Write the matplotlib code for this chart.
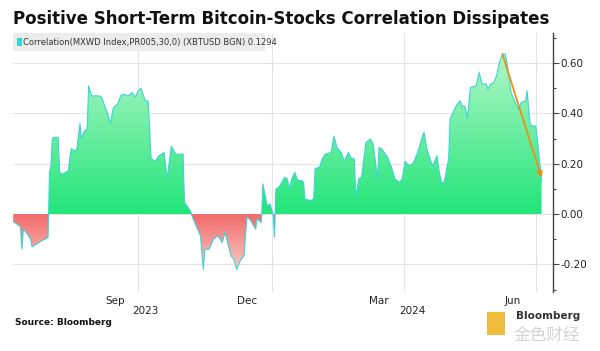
import numpy as np
import pandas as pd
import matplotlib
matplotlib.use('Agg')
import matplotlib.pyplot as plt
import matplotlib.dates as mdates
import matplotlib.transforms as mtransforms
from matplotlib.path import Path
from matplotlib.patches import Rectangle
from matplotlib.colors import LinearSegmentedColormap

# 30-day correlation, MSCI World vs Bitcoin
dates = [
    '2023-07-07', '2023-07-12', '2023-07-13', '2023-07-14', '2023-07-16', '2023-07-19',
    '2023-07-20', '2023-07-23', '2023-07-27', '2023-07-29', '2023-07-31', '2023-08-01',
    '2023-08-02', '2023-08-03', '2023-08-04', '2023-08-07', '2023-08-08', '2023-08-10',
    '2023-08-12', '2023-08-14', '2023-08-15', '2023-08-16', '2023-08-19', '2023-08-20',
    '2023-08-22', '2023-08-23', '2023-08-25', '2023-08-27', '2023-08-28', '2023-08-30',
    '2023-09-04', '2023-09-06', '2023-09-08', '2023-09-10', '2023-09-12', '2023-09-14',
    '2023-09-17', '2023-09-19', '2023-09-21', '2023-09-24', '2023-09-27', '2023-09-29',
    '2023-10-01', '2023-10-03', '2023-10-06', '2023-10-08', '2023-10-10', '2023-10-13',
    '2023-10-15', '2023-10-19', '2023-10-21', '2023-10-24', '2023-10-27', '2023-11-01',
    '2023-11-02', '2023-11-06', '2023-11-08', '2023-11-10', '2023-11-13', '2023-11-15',
    '2023-11-16', '2023-11-19', '2023-11-22', '2023-11-25', '2023-11-28', '2023-11-30',
    '2023-12-04', '2023-12-06', '2023-12-08', '2023-12-10', '2023-12-13', '2023-12-15',
    '2023-12-17', '2023-12-21', '2023-12-22', '2023-12-25', '2023-12-26', '2023-12-29',
    '2023-12-31', '2024-01-02', '2024-01-03', '2024-01-04', '2024-01-06', '2024-01-08',
    '2024-01-10', '2024-01-12', '2024-01-13', '2024-01-15', '2024-01-17', '2024-01-19',
    '2024-01-22', '2024-01-23', '2024-01-24', '2024-01-28', '2024-01-30', '2024-01-31',
    '2024-02-03', '2024-02-05', '2024-02-07', '2024-02-11', '2024-02-13', '2024-02-15',
    '2024-02-18', '2024-02-20', '2024-02-23', '2024-02-25', '2024-02-27', '2024-02-28',
    '2024-03-01', '2024-03-03', '2024-03-06', '2024-03-09', '2024-03-11', '2024-03-14',
    '2024-03-15', '2024-03-17', '2024-03-21', '2024-03-24', '2024-03-26', '2024-03-29',
    '2024-03-31', '2024-04-02', '2024-04-05', '2024-04-07', '2024-04-09', '2024-04-11',
    '2024-04-14', '2024-04-15', '2024-04-17', '2024-04-20', '2024-04-21', '2024-04-24',
    '2024-04-25', '2024-04-27', '2024-04-29', '2024-05-01', '2024-05-02', '2024-05-03',
    '2024-05-06', '2024-05-08', '2024-05-10', '2024-05-11', '2024-05-13', '2024-05-15',
    '2024-05-17', '2024-05-21', '2024-05-23', '2024-05-25', '2024-05-28', '2024-05-29',
    '2024-05-31', '2024-06-02', '2024-06-04', '2024-06-06', '2024-06-08', '2024-06-10',
    '2024-06-12', '2024-06-14', '2024-06-17', '2024-06-19', '2024-06-21', '2024-06-24',
    '2024-06-25', '2024-06-27', '2024-06-28', '2024-07-01', '2024-07-02', '2024-07-04',
    '2024-07-05',
]
corr = [
    -0.03, -0.05, -0.14, -0.06, -0.073, -0.10,
    -0.13, -0.12, -0.105, -0.10, -0.093, 0.165,
    0.19, 0.30, 0.305, 0.305, 0.165, 0.159,
    0.165, 0.172, 0.22, 0.26, 0.25, 0.265,
    0.36, 0.30, 0.33, 0.338, 0.51, 0.47,
    0.47, 0.464, 0.43, 0.40, 0.36, 0.423,
    0.437, 0.47, 0.477, 0.47, 0.483, 0.464,
    0.49, 0.50, 0.45, 0.45, 0.22, 0.21,
    0.23, 0.245, 0.14, 0.27, 0.238, 0.238,
    0.046, 0.013, -0.02, -0.046, -0.086, -0.22,
    -0.14, -0.14, -0.10, -0.086, -0.113, -0.073,
    -0.166, -0.18, -0.22, -0.19, -0.166, -0.013,
    -0.02, -0.06, -0.02, -0.033, 0.12, 0.033,
    0.04, 0.0, -0.09, 0.10, 0.106, 0.126,
    0.146, 0.14, 0.10, 0.14, 0.166, 0.133,
    0.133, 0.126, 0.06, 0.053, 0.06, 0.18,
    0.186, 0.22, 0.238, 0.245, 0.31, 0.265,
    0.245, 0.21, 0.245, 0.22, 0.22, 0.066,
    0.14, 0.146, 0.285, 0.298, 0.278, 0.14,
    0.265, 0.258, 0.225, 0.179, 0.14, 0.126,
    0.14, 0.21, 0.192, 0.199, 0.22, 0.252,
    0.311, 0.325, 0.258, 0.205, 0.192, 0.232,
    0.185, 0.126, 0.126, 0.192, 0.218, 0.377,
    0.417, 0.437, 0.45, 0.43, 0.43, 0.384,
    0.503, 0.51, 0.563, 0.517, 0.517, 0.497,
    0.517, 0.523, 0.55, 0.603, 0.636, 0.636,
    0.57, 0.483, 0.444, 0.417, 0.444, 0.45,
    0.49, 0.364, 0.35, 0.35, 0.30, 0.19,
    0.1294,
]
last_value = 0.1294

month_labels = ['Sep', 'Dec', 'Mar', 'Jun']
month_pos = ['2023-09-15', '2023-12-15', '2024-03-15', '2024-06-15']
year_labels = ['2023', '2024']
year_pos = ['2023-10-06', '2024-04-07']
quarter_lines = ['2023-10-01', '2024-01-01', '2024-04-01', '2024-07-01']
yticks = [-0.2, 0.0, 0.2, 0.4, 0.6]

arrow_from = ('2024-06-08', 0.636)
arrow_to = ('2024-07-05', 0.145)

x = mdates.date2num(pd.to_datetime(dates))
y = np.array(corr)
d2n = lambda s: mdates.date2num(pd.Timestamp(s))

fig = plt.figure(figsize=(6, 3.51), dpi=100)
ax = fig.add_axes([0.022, 0.168, 0.900, 0.738])
xlo, xhi = d2n('2023-07-07'), d2n('2024-07-13')


def gradient_fill(mask, c_zero, c_far, y_far):
    poly = ax.fill_between(x, 0, y, where=mask, interpolate=True,
                           facecolor='none', edgecolor='none')
    path = Path.make_compound_path(*poly.get_paths())
    cmap = LinearSegmentedColormap.from_list('grad', [c_zero, c_far])
    grad = np.linspace(0, 1, 256).reshape(-1, 1)
    im = ax.imshow(grad, cmap=cmap, aspect='auto', origin='lower',
                   extent=[xlo, xhi, 0, y_far], zorder=2, interpolation='bicubic')
    im.set_clip_path(path, ax.transData)


gradient_fill(y >= 0, '#22e57a', '#b6f7c9', 0.66)
gradient_fill(y <= 0, '#f26a6a', '#f9cfcb', -0.23)
ax.plot(x, y, color='#3dd3d6', lw=0.8, zorder=3)

ax.set_xlim(xlo, xhi)
ax.set_ylim(-0.31, 0.72)

for q in quarter_lines:
    ax.axvline(d2n(q), color='#e4e4e4', lw=0.8, zorder=1)
for t in yticks:
    ax.axhline(t, color='#e4e4e4', lw=0.8, zorder=1)

ax.annotate('', xy=(d2n(arrow_to[0]), arrow_to[1]),
            xytext=(d2n(arrow_from[0]), arrow_from[1]),
            arrowprops=dict(arrowstyle='-|>', color='#e8901a', lw=1.3,
                            mutation_scale=8, shrinkA=0, shrinkB=0), zorder=5)

for s in ['left', 'top', 'bottom']:
    ax.spines[s].set_visible(False)
ax.spines['right'].set_color('#444444')
ax.spines['right'].set_linewidth(1.0)
ax.yaxis.tick_right()
ax.set_yticks(yticks)
ax.set_yticklabels(['%.2f' % t for t in yticks])
ax.set_yticks(np.arange(-0.3, 0.75, 0.1), minor=True)
ax.tick_params(axis='y', which='major', length=4, width=0.8, color='#444444',
               labelsize=7.5, pad=1.5, labelcolor='#222222')
ax.tick_params(axis='y', which='minor', length=2.5, width=0.8, color='#444444')

ax.set_xticks([d2n(m) for m in month_pos])
ax.set_xticklabels(month_labels)
ax.tick_params(axis='x', length=0, labelsize=7.5, pad=3, labelcolor='#222222')
trans = mtransforms.blended_transform_factory(ax.transData, ax.transAxes)
for lab, pos in zip(year_labels, year_pos):
    ax.text(d2n(pos), -0.073, lab, transform=trans, ha='center', va='center',
            fontsize=7.5, color='#222222')

# legend strip
fig.patches.append(Rectangle((0.022, 0.855), 0.42, 0.051, transform=fig.transFigure,
                             facecolor='#ececec', edgecolor='none', zorder=0))
fig.patches.append(Rectangle((0.028, 0.868), 0.009, 0.024, transform=fig.transFigure,
                             facecolor='#2fd6d6', edgecolor='none', zorder=1))
fig.text(0.039, 0.880, 'Correlation(MXWD Index,PR005,30,0) (XBTUSD BGN) %.4f' % last_value,
         fontsize=6, va='center', ha='left', color='#333333')

fig.text(0.022, 0.946, 'Positive Short-Term Bitcoin-Stocks Correlation Dissipates',
         fontsize=12, fontweight='bold', va='center', ha='left', color='#111111')
fig.text(0.025, 0.080, 'Source: Bloomberg', fontsize=6.5, fontweight='bold',
         va='center', ha='left', color='#111111')

# watermark bits
fig.patches.append(Rectangle((0.812, 0.045), 0.030, 0.065, transform=fig.transFigure,
                             facecolor='#f0b429', edgecolor='none', zorder=0, alpha=0.9))
fig.text(0.855, 0.045, '金色财经', fontsize=12, family=['Noto Sans CJK SC', 'DejaVu Sans'],
         color='#d4d4d4', va='center', ha='left')
fig.text(0.860, 0.100, 'Bloomberg', fontsize=7.5, fontweight='bold', color='#333333',
         va='center', ha='left')

fig.savefig('out.png', dpi=100)
